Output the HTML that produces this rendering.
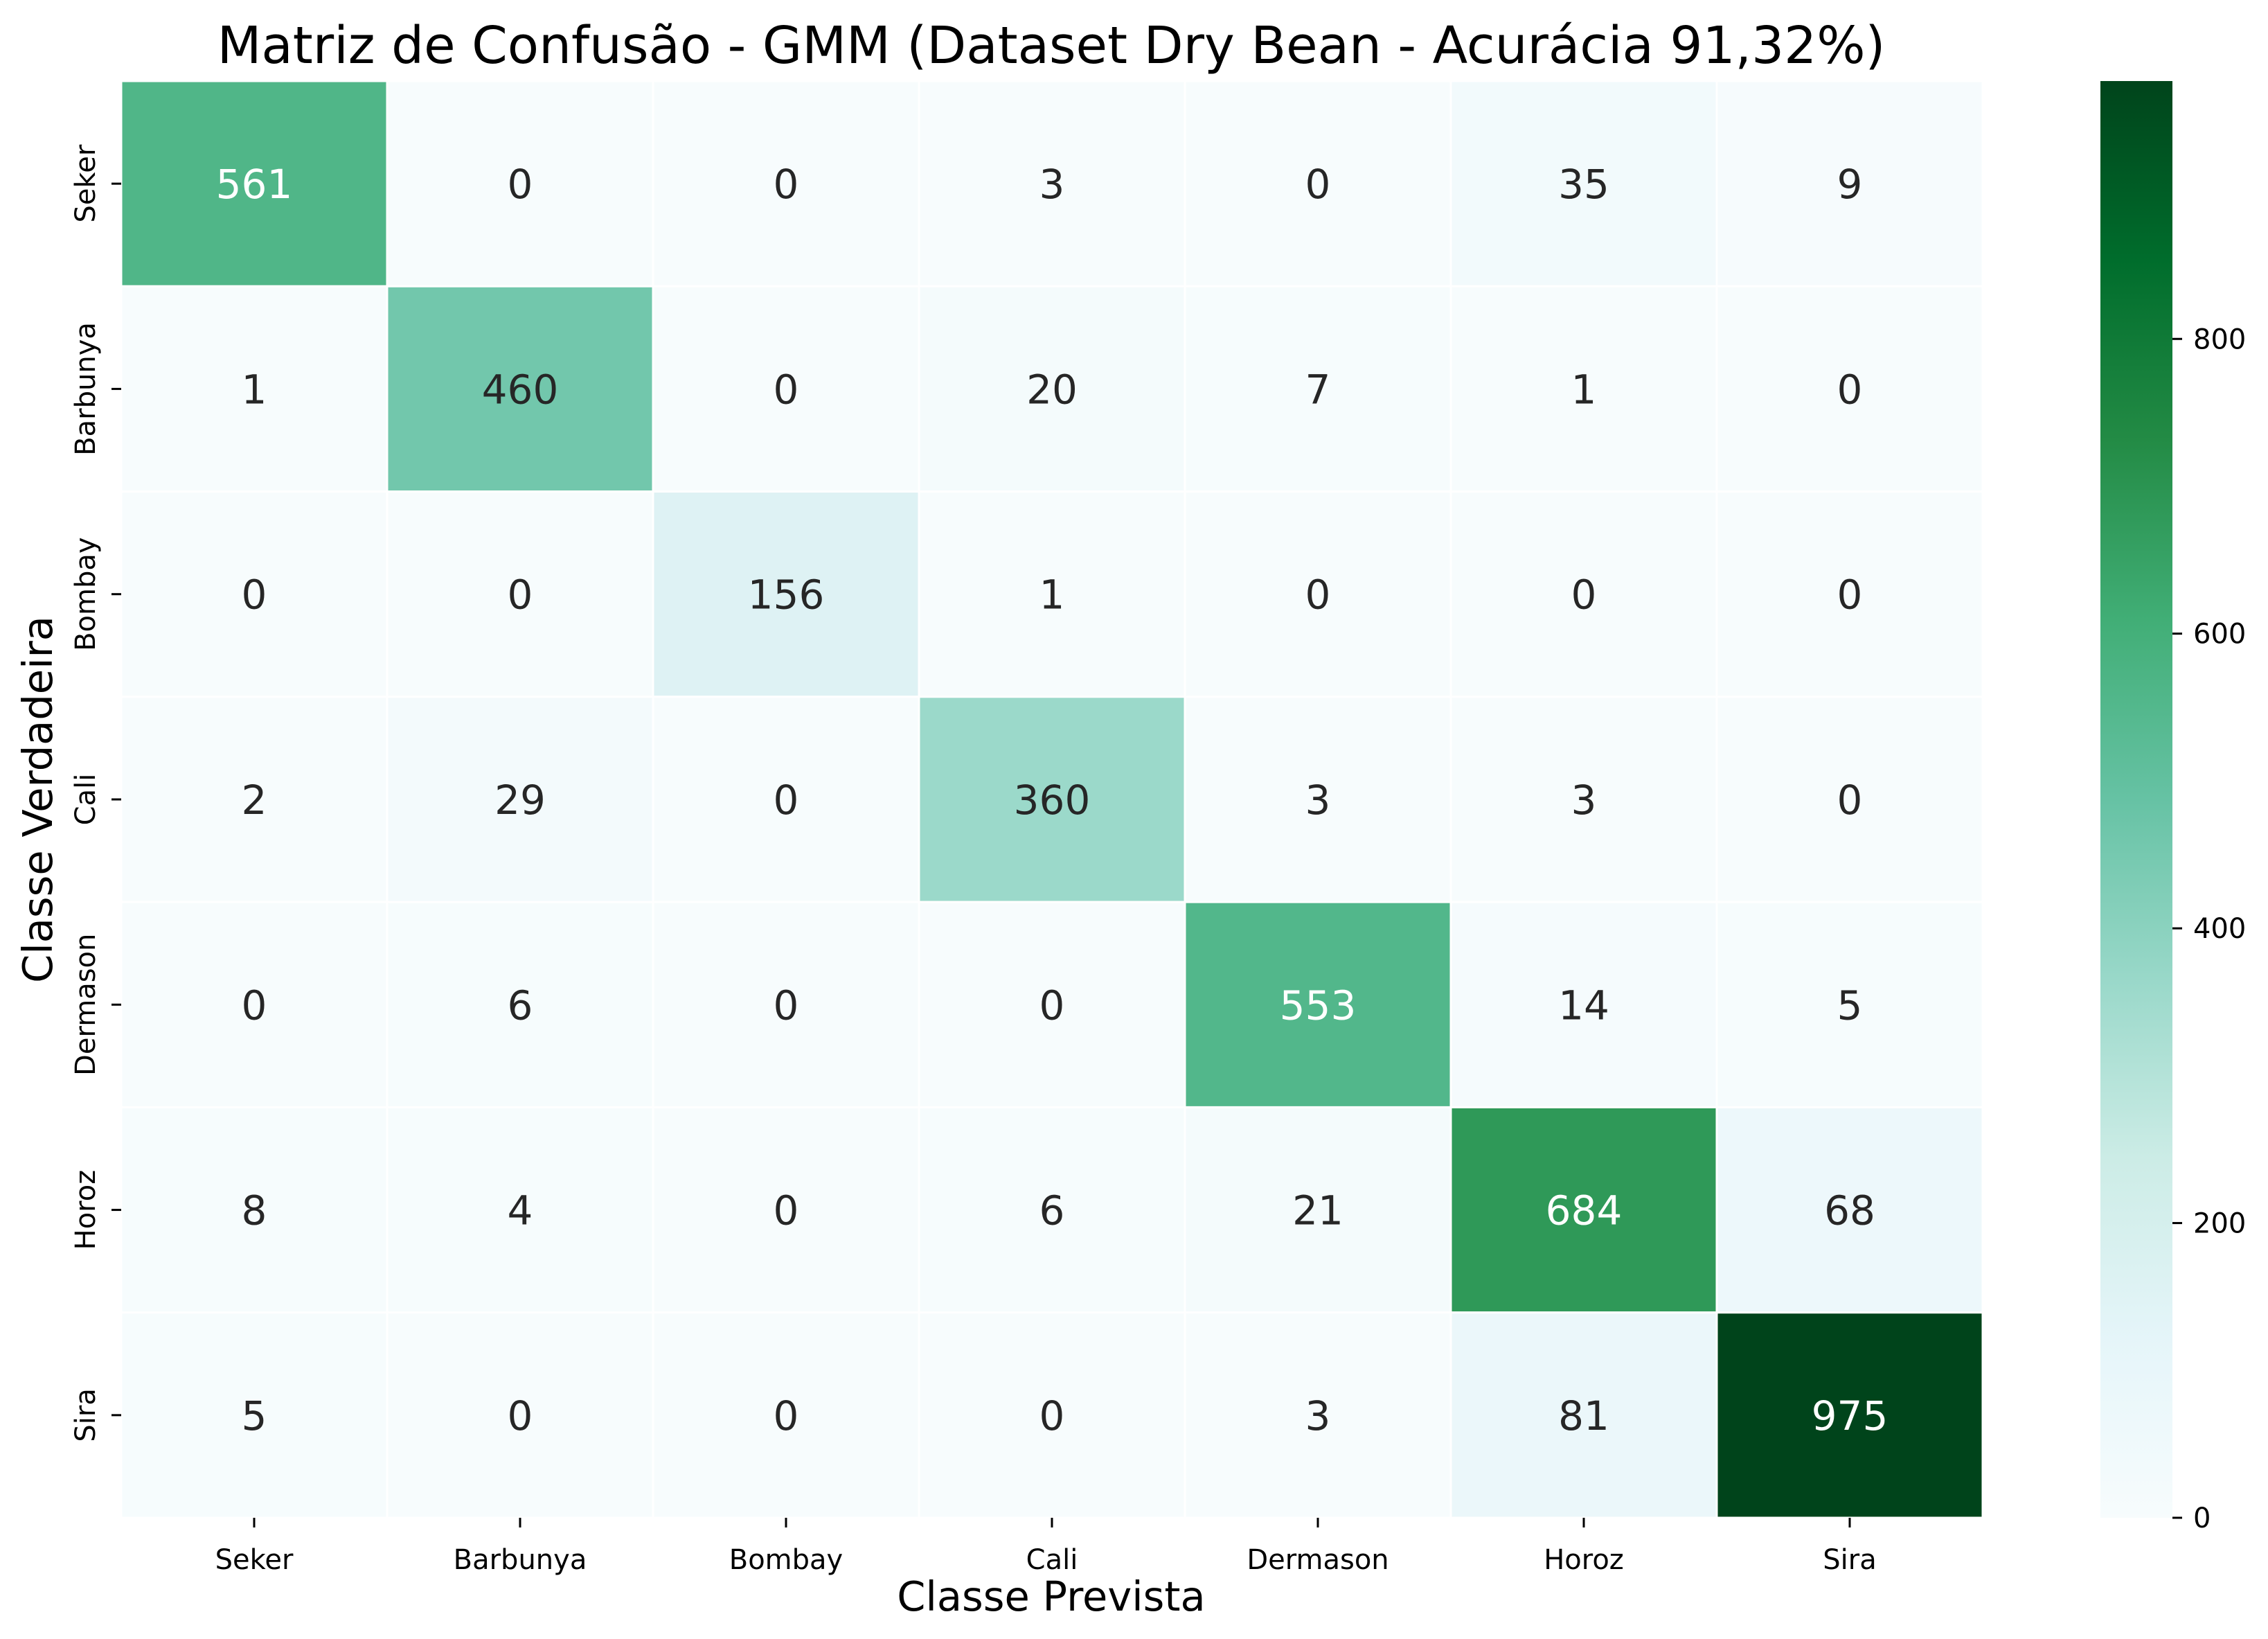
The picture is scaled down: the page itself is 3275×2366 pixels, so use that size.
<!DOCTYPE html>
<html><head><meta charset="utf-8"><style>
html,body{margin:0;padding:0;background:#fff;}
svg{display:block;font-family:"DejaVu Sans","Liberation Sans",sans-serif;}
</style></head><body>
<svg id="chart" width="3275" height="2366" viewBox="0 0 3275 2366" xmlns="http://www.w3.org/2000/svg">
<defs>
<linearGradient id="cbgrad" x1="0" y1="1" x2="0" y2="0">
<stop offset="0" stop-color="#f7fcfd"/><stop offset="0.125" stop-color="#e5f5f9"/><stop offset="0.25" stop-color="#ccece6"/><stop offset="0.375" stop-color="#99d8c9"/><stop offset="0.5" stop-color="#66c2a4"/><stop offset="0.625" stop-color="#41ae76"/><stop offset="0.75" stop-color="#238b45"/><stop offset="0.875" stop-color="#006d2c"/><stop offset="1" stop-color="#00441b"/>
</linearGradient>
</defs>
<text x="1518" y="91" font-size="74" text-anchor="middle" fill="#000">Matriz de Confusão - GMM (Dataset Dry Bean - Acurácia 91,32%)</text>
<g id="cells"></g>
<g id="ticks"></g>
<text x="1518" y="2325" font-size="59" text-anchor="middle" fill="#000">Classe Prevista</text>
<text transform="translate(75,1154) rotate(-90)" font-size="59" text-anchor="middle" fill="#000">Classe Verdadeira</text>
<rect x="3033" y="117" width="104" height="2074" fill="url(#cbgrad)"/>
<g id="cbticks"></g>
</svg>
<script>
const categories = ["Seker","Barbunya","Bombay","Cali","Dermason","Horoz","Sira"];
const rowSeker    = [561, 0, 0, 3, 0, 35, 9];
const rowBarbunya = [1, 460, 0, 20, 7, 1, 0];
const rowBombay   = [0, 0, 156, 1, 0, 0, 0];
const rowCali     = [2, 29, 0, 360, 3, 3, 0];
const rowDermason = [0, 6, 0, 0, 553, 14, 5];
const rowHoroz    = [8, 4, 0, 6, 21, 684, 68];
const rowSira     = [5, 0, 0, 0, 3, 81, 975];
const colorbarTicks = [0, 200, 400, 600, 800];

const matrix = [rowSeker,rowBarbunya,rowBombay,rowCali,rowDermason,rowHoroz,rowSira];
const NS = "http://www.w3.org/2000/svg";
const X0 = 175, X1 = 2863, Y0 = 117, Y1 = 2191;
const n = categories.length;
const cw = (X1 - X0) / n, ch = (Y1 - Y0) / n;
const vmin = 0, vmax = Math.max(...matrix.flat());
const xPos = i => X0 + i * cw;
const yPos = i => Y0 + i * ch;
const cbY = v => Y1 - (v - vmin) / (vmax - vmin) * (Y1 - Y0);
const stops = ["#f7fcfd","#e5f5f9","#ccece6","#99d8c9","#66c2a4","#41ae76","#238b45","#006d2c","#00441b"].map(h=>[parseInt(h.slice(1,3),16),parseInt(h.slice(3,5),16),parseInt(h.slice(5,7),16)]);
function cmap(v){
  let t = Math.max(0, Math.min(1, (v - vmin) / (vmax - vmin))) * (stops.length - 1);
  let i = Math.min(Math.floor(t), stops.length - 2), f = t - i;
  return stops[i].map((c,k)=>Math.round(c + (stops[i+1][k]-c)*f));
}
function lum(rgb){
  const l = rgb.map(c=>{c/=255;return c<=0.03928?c/12.92:Math.pow((c+0.055)/1.055,2.4);});
  return 0.2126*l[0]+0.7152*l[1]+0.0722*l[2];
}
function mk(tag, attrs, parent){
  const e = document.createElementNS(NS, tag);
  for (const k in attrs) e.setAttribute(k, attrs[k]);
  parent.appendChild(e); return e;
}
const cells = document.getElementById('cells');
matrix.forEach((row, r) => {
  row.forEach((v, c) => {
    const rgb = cmap(v);
    const rect = mk('rect', {x: xPos(c), y: yPos(r), width: cw, height: ch, fill: `rgb(${rgb.join(',')})`, stroke: '#fff', 'stroke-width': 3}, cells);
    
    
    const t = mk('text', {x: xPos(c) + cw/2, y: yPos(r) + ch/2 + 21, 'font-size': 58, 'text-anchor': 'middle', fill: lum(rgb) < 0.408 ? '#ffffff' : '#262626'}, cells);
    
    
    t.textContent = v;
  });
});
const ticks = document.getElementById('ticks');
categories.forEach((name, i) => {
  const cx = xPos(i) + cw/2;
  const tl = mk('line', {x1: cx, x2: cx, y1: Y1, y2: Y1 + 14, stroke: '#000', 'stroke-width': 3}, ticks);
  
  
  const tx = mk('text', {x: cx, y: 2265, 'font-size': 40, 'text-anchor': 'middle', fill: '#000'}, ticks);
  
  
  tx.textContent = name;
  const cy = yPos(i) + ch/2;
  const yl = mk('line', {x1: X0 - 14, x2: X0, y1: cy, y2: cy, stroke: '#000', 'stroke-width': 3}, ticks);
  
  
  const ty = mk('text', {transform: `translate(137,${cy}) rotate(-90)`, 'font-size': 40, 'text-anchor': 'middle', fill: '#000'}, ticks);
  
  
  ty.textContent = name;
});
const cbt = document.getElementById('cbticks');
colorbarTicks.forEach(v => {
  const y = cbY(v);
  const l = mk('line', {x1: 3137, x2: 3151, y1: y, y2: y, stroke: '#000', 'stroke-width': 3}, cbt);
  
  
  const t = mk('text', {x: 3167, y: y + 14, 'font-size': 40, fill: '#000'}, cbt);
  
  
  t.textContent = v;
});
</script>
</body></html>
